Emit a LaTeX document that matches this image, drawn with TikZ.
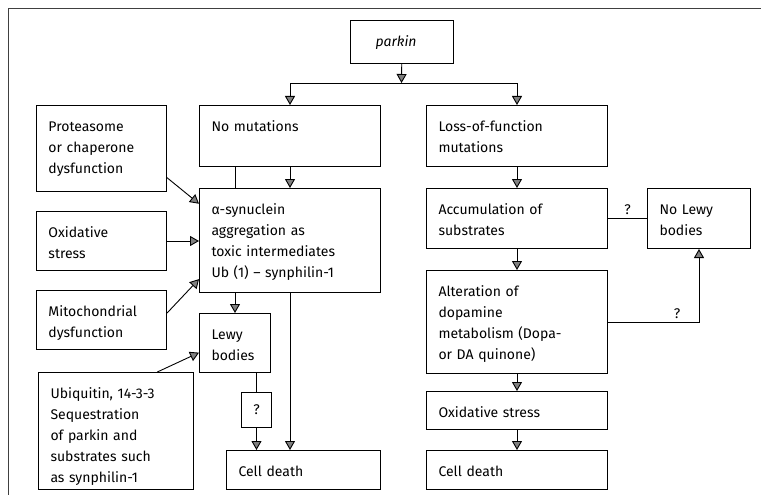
\documentclass[tikz,border=0pt]{standalone}
\usepackage{fontspec}
\setmainfont{Fira Sans}
\usetikzlibrary{arrows.meta}

\begin{document}
\begin{tikzpicture}[%
    x=1pt, y=-1pt,
    >={Triangle[width=10pt,length=9pt,fill=gray]},
    every node/.style={font=\fontsize{14}{21}\selectfont},
    box/.style 2 args={draw, line width=1pt, anchor=north west, align=left,
      inner xsep=12pt, inner ysep=0pt, text height=26pt,
      text width=#1, text depth=#2},
    link/.style={line width=0.9pt}
  ]
  \useasboundingbox (0,0) rectangle (761,495);
  \draw[line width=0.8pt, gray!50!black] (8,495) -- (8,8) -- (761,8);

  \node[box={53pt}{17pt}, inner xsep=25pt] (parkin) at (350,20) {\textit{parkin}};
  \node[box={157pt}{35pt}] (nomut) at (199,105) {No mutations};
  \node[box={157pt}{35pt}] (loss) at (426,105) {Loss-of-function\\mutations};
  \node[box={106pt}{60pt}] (protea) at (36,105) {Proteasome\\or chaperone\\dysfunction};
  \node[box={157pt}{78pt}] (alpha) at (199,188) {α-synuclein\\aggregation as\\toxic intermediates\\Ub (1) – synphilin-1};
  \node[box={157pt}{34pt}] (accum) at (426,188) {Accumulation of\\substrates};
  \node[box={79pt}{34pt}] (nolewy) at (647,188) {No Lewy\\bodies};
  \node[box={106pt}{33pt}] (oxleft) at (36,211) {Oxidative\\stress};
  \node[box={157pt}{77pt}] (alter) at (426,270) {Alteration of\\dopamine\\metabolism (Dopa-\\or DA quinone)};
  \node[box={106pt}{33pt}] (mito) at (36,290) {Mitochondrial\\dysfunction};
  \node[box={47pt}{33pt}] (lewy) at (199,313) {Lewy\\bodies};
  \node[box={131pt}{91pt}] (ubiq) at (38,372) {Ubiquitin, 14-3-3\\Sequestration\\of parkin and\\substrates such\\as synphilin-1};
  \node[draw, line width=1pt, anchor=north west, minimum width=30pt,
    minimum height=35pt, inner sep=0pt] (qbox) at (241,392) {?};
  \node[box={157pt}{12pt}] (oxright) at (426,391) {Oxidative stress};
  \node[box={130pt}{13pt}] (deathleft) at (226,450) {Cell death};
  \node[box={157pt}{13pt}] (deathright) at (426,450) {Cell death};

  \coordinate (split) at (401.5,83);
  \draw[link,->] (parkin) -- (split);
  \draw[link,->] (split) -| (nomut);
  \draw[link,->] (split) -| (loss);

  \draw[link,->] (nomut) -- (alpha);
  \draw[link] (nomut.south -| lewy) -- (alpha.north -| lewy);
  \draw[link,->] (protea.-24) -- (alpha.158);
  \draw[link,->] (oxleft) -- (oxleft -| alpha.west);
  \draw[link,->] (mito.6) -- (alpha.203);
  \draw[link,->] (ubiq.55) -- (lewy.195);
  \draw[link,->] (alpha.south -| lewy) -- (lewy);
  \draw[link,->] (alpha) -- (alpha.south |- deathleft.north);
  \draw[link] (lewy.south -| qbox) -- (qbox);
  \draw[link,->] (qbox) -- (qbox |- deathleft.north);

  \draw[link,->] (loss) -- (accum);
  \draw[link,->] (accum) -- (alter);
  \draw[link,->] (alter) -- (oxright);
  \draw[link,->] (oxright) -- (deathright);
  \draw[link] (accum) -- node[above]{?} (nolewy);
  \draw[link,->] (alter) -| node[pos=0.38, above]{?} (nolewy);
\end{tikzpicture}
\end{document}
